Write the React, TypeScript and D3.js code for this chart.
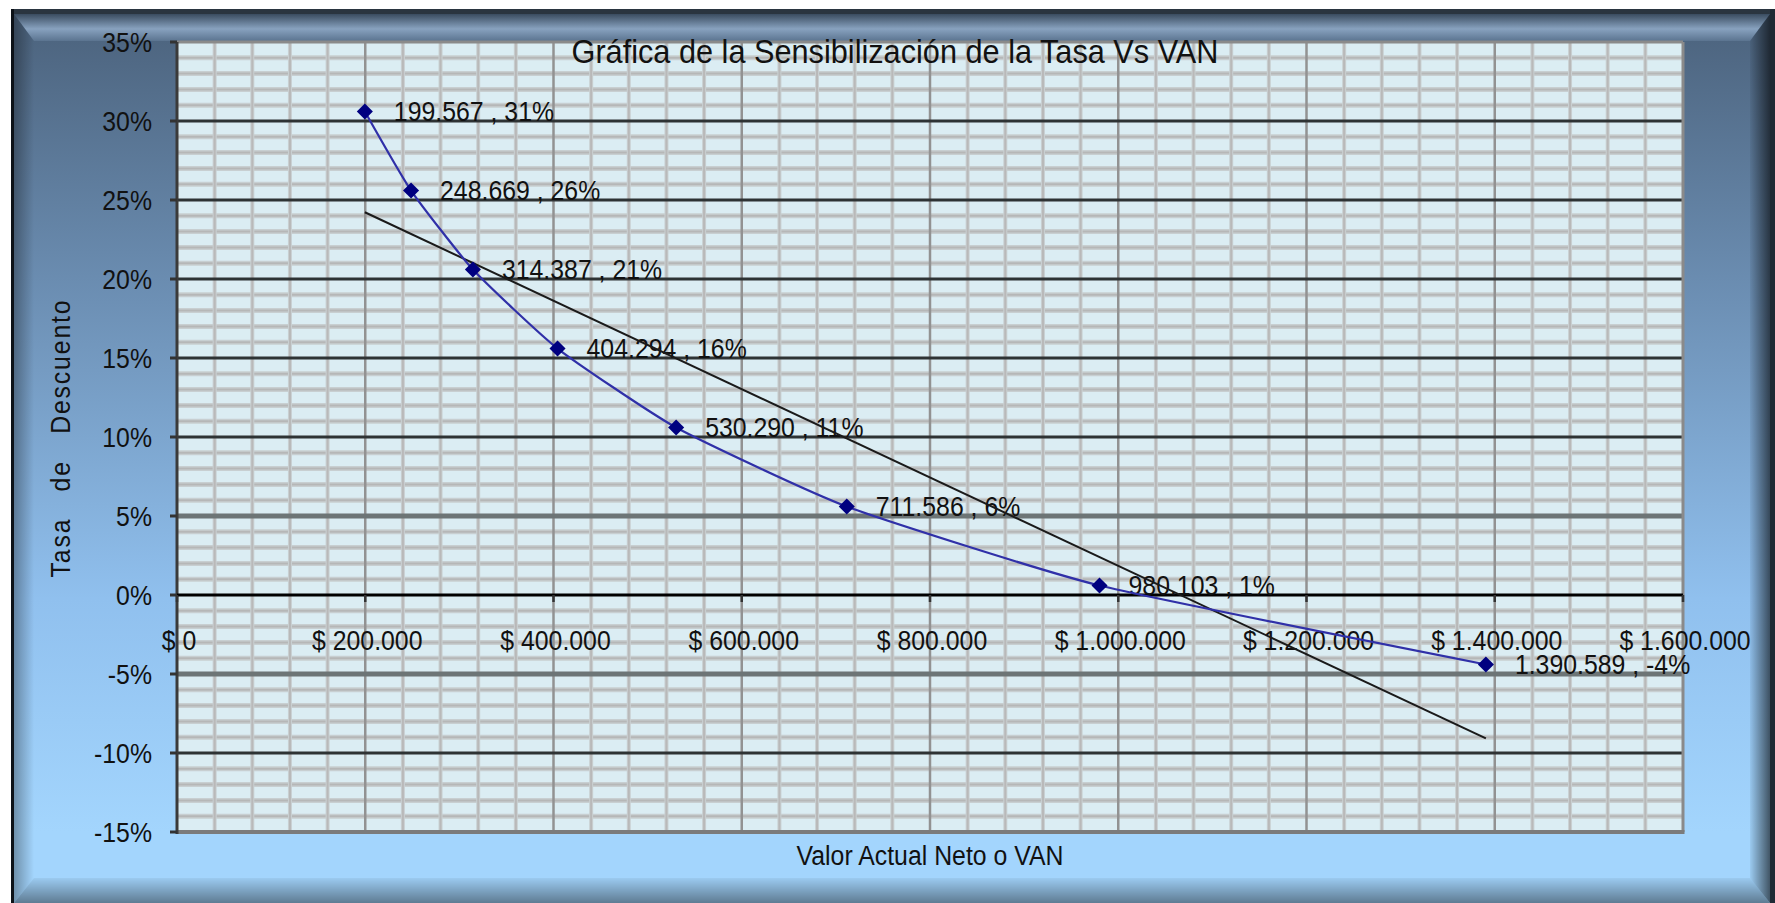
import React from 'react';
import * as d3 from 'd3';

// VAN (valor actual neto) for each discount rate
const vanValues = [199567, 248669, 314387, 404294, 530290, 711586, 980103, 1390589];
const tasaValues = [0.306, 0.256, 0.206, 0.156, 0.106, 0.056, 0.006, -0.044];

const xTicks = [0, 200000, 400000, 600000, 800000, 1000000, 1200000, 1400000, 1600000];
const yTicks = [0.35, 0.3, 0.25, 0.2, 0.15, 0.1, 0.05, 0, -0.05, -0.1, -0.15];

const title = 'Gráfica de la Sensibilización de la Tasa Vs VAN';
const xTitle = 'Valor Actual Neto o VAN';
const yTitle = 'Tasa   de   Descuento';

const W = 1775;
const H = 903;
const plot = { left: 177, right: 1683, top: 42, bottom: 832 };

const locale = d3.formatLocale({
  decimal: ',',
  thousands: '.',
  grouping: [3],
  currency: ['$ ', ''],
  minus: '-',
});
const fmtMoney = locale.format('$,.0f');
const fmtNum = locale.format(',.0f');
const fmtPct = locale.format('.0%');

const FONT = '"Liberation Sans", Arial, sans-serif';

// narrow-ish text like the original picture
function Txt({ x, y, size, anchor = 'start', sx = 0.92, rotate = 0, children, spacing = 0 }: any) {
  return (
    <g transform={`translate(${x},${y}) rotate(${rotate}) scale(${sx},1)`}>
      <text
        x={0}
        y={0}
        fontSize={size}
        fontFamily={FONT}
        textAnchor={anchor}
        fill="#111"
        letterSpacing={spacing}
      >
        {children}
      </text>
    </g>
  );
}

export default function App() {
  const x = d3.scaleLinear().domain([0, 1600000]).range([plot.left, plot.right]);
  const y = d3.scaleLinear().domain([-0.15, 0.35]).range([plot.bottom, plot.top]);

  const pts: [number, number][] = vanValues.map((v, i) => [v, tasaValues[i]]);

  // linear trend (least squares)
  const mx = d3.mean(vanValues) as number;
  const my = d3.mean(tasaValues) as number;
  const sxy = d3.sum(pts, (p) => (p[0] - mx) * (p[1] - my));
  const sxx = d3.sum(pts, (p) => (p[0] - mx) ** 2);
  const slope = sxy / sxx;
  const icpt = my - slope * mx;
  const x0 = d3.min(vanValues) as number;
  const x1 = d3.max(vanValues) as number;

  const line = d3
    .line<[number, number]>()
    .x((d) => x(d[0]))
    .y((d) => y(d[1]))
    .curve(d3.curveCardinal.tension(0.5));

  const minorX = d3.range(40000, 1600000, 40000).filter((v) => v % 200000 !== 0);
  const majorX = d3.range(200000, 1600000, 200000);
  const minorY = d3.range(-14, 35, 1).filter((v) => v % 5 !== 0).map((v) => v / 100);
  const majorY = [0.3, 0.25, 0.2, 0.15, 0.1, -0.1];
  const grayY = [0.05, -0.05];

  const diamond = d3.symbol(d3.symbolDiamond2, 165)();

  return (
    <svg
      width={W}
      height={H}
      style={{ position: 'absolute', left: 0, top: 0, background: '#fff' }}
    >
      <defs>
        <linearGradient id="bg" x1="0" y1="0" x2="0" y2="1">
          <stop offset="0.036" stopColor="#4e6681" />
          <stop offset="0.3" stopColor="#6a8cb0" />
          <stop offset="0.66" stopColor="#90c0ee" />
          <stop offset="0.92" stopColor="#a3d5fd" />
        </linearGradient>
        <linearGradient id="bevTop" x1="0" y1="0" x2="0" y2="1">
          <stop offset="0" stopColor="#3a4c60" />
          <stop offset="0.55" stopColor="#88a2bf" />
          <stop offset="1" stopColor="#5b7490" />
        </linearGradient>
        <linearGradient id="bevLeft" x1="0" y1="0" x2="1" y2="0">
          <stop offset="0" stopColor="#000" stopOpacity="0.32" />
          <stop offset="1" stopColor="#000" stopOpacity="0" />
        </linearGradient>
        <linearGradient id="bevRight" x1="0" y1="0" x2="1" y2="0">
          <stop offset="0" stopColor="#000" stopOpacity="0.05" />
          <stop offset="1" stopColor="#000" stopOpacity="0.6" />
        </linearGradient>
        <linearGradient id="bevBottom" x1="0" y1="0" x2="0" y2="1">
          <stop offset="0" stopColor="#000" stopOpacity="0.05" />
          <stop offset="1" stopColor="#000" stopOpacity="0.42" />
        </linearGradient>
      </defs>

      {/* chart frame */}
      <rect x={11} y={9} width={W - 11} height={H - 9} fill="url(#bg)" />
      <polygon points="14,14 1770,14 1750,41 34,41" fill="url(#bevTop)" />
      <polygon points="14,14 34,41 34,878 14,903" fill="url(#bevLeft)" />
      <polygon points="1770,14 1770,903 1750,878 1750,41" fill="url(#bevRight)" />
      <polygon points="14,903 1770,903 1750,878 34,878" fill="url(#bevBottom)" />
      <rect x={11} y={9} width={W - 11} height={5} fill="#2a3540" />
      <rect x={11} y={9} width={3} height={H - 9} fill="#0d1218" />
      <rect x={1770} y={9} width={5} height={H - 9} fill="#1f2a35" />

      {/* plot area */}
      <rect
        x={plot.left}
        y={plot.top}
        width={plot.right - plot.left}
        height={plot.bottom - plot.top}
        fill="#dbedf3"
      />
      <g>
        {minorY.map((v) => (
          <g key={'my' + v}>
            <line x1={plot.left} x2={plot.right} y1={y(v)} y2={y(v)} stroke="#c8cfd1" strokeWidth={5} />
            <line x1={plot.left} x2={plot.right} y1={y(v)} y2={y(v)} stroke="#b6b7b7" strokeWidth={2} />
          </g>
        ))}
        {minorX.map((v) => (
          <g key={'mx' + v}>
            <line x1={x(v)} x2={x(v)} y1={plot.top} y2={plot.bottom} stroke="#c9d0d2" strokeWidth={4} />
            <line x1={x(v)} x2={x(v)} y1={plot.top} y2={plot.bottom} stroke="#b9b9b9" strokeWidth={2} />
          </g>
        ))}
        {majorX.map((v) => (
          <line key={'Mx' + v} x1={x(v)} x2={x(v)} y1={plot.top} y2={plot.bottom} stroke="#929292" strokeWidth={2.5} />
        ))}
        {grayY.map((v) => (
          <line key={'gy' + v} x1={plot.left} x2={plot.right} y1={y(v)} y2={y(v)} stroke="#6d7576" strokeWidth={5} />
        ))}
        {majorY.map((v) => (
          <line key={'My' + v} x1={plot.left} x2={plot.right} y1={y(v)} y2={y(v)} stroke="#2e3334" strokeWidth={3} />
        ))}
      </g>
      {/* plot border */}
      <line x1={plot.left} x2={plot.right} y1={plot.top} y2={plot.top} stroke="#8a8a8a" strokeWidth={3} />
      <line x1={plot.right} x2={plot.right} y1={plot.top} y2={plot.bottom} stroke="#8a8a8a" strokeWidth={3} />
      <line x1={plot.left} x2={plot.right + 1.5} y1={plot.bottom} y2={plot.bottom} stroke="#7b7b7b" strokeWidth={4} />

      {/* y axis */}
      <line x1={plot.left} x2={plot.left} y1={plot.top} y2={plot.bottom + 2} stroke="#3a3a3a" strokeWidth={3} />
      {yTicks.map((v) => (
        <g key={'yt' + v}>
          <line x1={plot.left - 7} x2={plot.left} y1={y(v)} y2={y(v)} stroke="#333" strokeWidth={3} />
          <Txt x={plot.left - 25} y={y(v) + 9.7} size={27} anchor="end">
            {fmtPct(v)}
          </Txt>
        </g>
      ))}

      {/* x axis on 0% */}
      <line x1={plot.left} x2={plot.right} y1={y(0)} y2={y(0)} stroke="#000" strokeWidth={3} />
      {xTicks.map((v) => (
        <g key={'xt' + v}>
          <line x1={x(v)} x2={x(v)} y1={y(0)} y2={y(0) + 7} stroke="#333" strokeWidth={2.5} />
          <Txt x={x(v) + 2} y={650} size={27} anchor="middle">
            {fmtMoney(v)}
          </Txt>
        </g>
      ))}

      {/* data labels */}
      {pts.map((p) => (
        <Txt key={'dl' + p[0]} x={x(p[0]) + 29} y={y(p[1]) + 9.5} size={27}>
          {`${fmtNum(p[0])} , ${fmtPct(p[1])}`}
        </Txt>
      ))}

      {/* trend line */}
      <line
        x1={x(x0)}
        y1={y(icpt + slope * x0)}
        x2={x(x1)}
        y2={y(icpt + slope * x1)}
        stroke="#1a1a1a"
        strokeWidth={2}
      />

      {/* series */}
      <path d={line(pts) as string} fill="none" stroke="#3030a8" strokeWidth={2.2} />
      {pts.map((p) => (
        <path key={'mk' + p[0]} d={diamond as string} transform={`translate(${x(p[0])},${y(p[1])})`} fill="#000080" />
      ))}

      {/* titles */}
      <Txt x={895} y={63} size={33} anchor="middle" sx={0.93}>
        {title}
      </Txt>
      <Txt x={930} y={865} size={27} anchor="middle">
        {xTitle}
      </Txt>
      <Txt x={70} y={438} size={27} anchor="middle" rotate={-90} spacing={2}>
        <tspan style={{ whiteSpace: 'pre' }}>{yTitle}</tspan>
      </Txt>
    </svg>
  );
}
